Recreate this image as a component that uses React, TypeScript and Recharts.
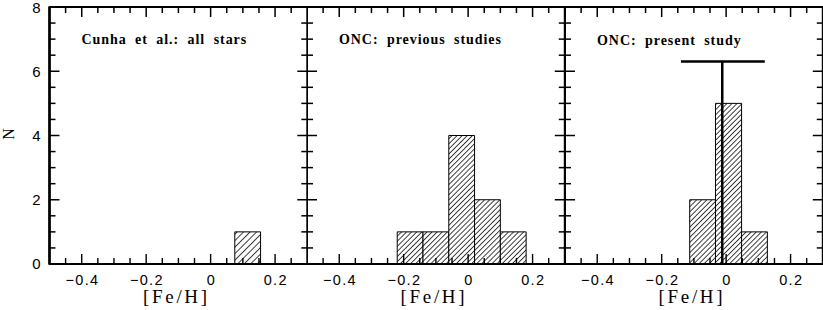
import React from "react";
import { ComposedChart, XAxis, YAxis, ReferenceArea, ReferenceLine } from "recharts";

const xDomain = [-0.5, 0.3];
const yDomain = [0, 8];
const xTicks = [-0.45, -0.4, -0.35, -0.3, -0.25, -0.2, -0.15, -0.1, -0.05, 0, 0.05, 0.1, 0.15, 0.2, 0.25];
const xMajorTicks = [-0.4, -0.2, 0, 0.2];
const yTicks = [0.5, 1, 1.5, 2, 2.5, 3, 3.5, 4, 4.5, 5, 5.5, 6, 6.5, 7, 7.5];
const yLabelTicks = [0, 2, 4, 6, 8];
const yMajorTicks = [0, 2, 4, 6, 8];

const panelTitles = ["Cunha et al.: all stars", "ONC: previous studies", "ONC: present study"];

const cunhaEdges = [0.075, 0.155];
const cunhaCounts = [1];
const previousEdges = [-0.22, -0.14, -0.06, 0.02, 0.1, 0.18];
const previousCounts = [1, 1, 4, 2, 1];
const presentEdges = [-0.113, -0.033, 0.048, 0.128];
const presentCounts = [2, 5, 1];

// mean and spread of the present sample, drawn as a T marker
const presentMean = -0.012;
const presentRange = [-0.14, 0.12];
const presentMarkerHeight = 6.3;

const PLOT_W = 257.8;
const PLOT_TOP = 7;
const X_AXIS_H = 46;
const CHART_H = 310;
const PLOT_H = CHART_H - PLOT_TOP - X_AXIS_H;
const INK = "#000";
const SERIF = "'Liberation Serif', 'Times New Roman', serif";
const SANS = "'Liberation Sans', Arial, sans-serif";

const pxPerX = PLOT_W / (xDomain[1] - xDomain[0]);
const pxPerY = PLOT_H / (yDomain[1] - yDomain[0]);

const near = (list: number[], v: number) => list.some((t) => Math.abs(t - v) < 1e-6);

const fmtX = (v: number) => {
  if (Math.abs(v) < 1e-9) return "0";
  return (v < 0 ? "\u2212" : "") + Math.abs(v).toFixed(1);
};

const xLabel = (props: any) => {
  const { x, y, payload } = props;
  if (!near(xMajorTicks, payload.value)) return <g />;
  return (
    <text x={x + 0.7} y={y + 21} textAnchor="middle" fontFamily={SANS} fontSize={14.5}
      letterSpacing={1.3} fill="#000">
      {fmtX(payload.value)}
    </text>
  );
};

const xTickMark = (props: any) => {
  const { x, y, payload } = props;
  const len = near(xMajorTicks, payload.value) ? 10 : 6;
  return <rect x={x - 0.7} y={y - len} width={1.4} height={len} fill="#000" />;
};

const yLabel = (props: any) => {
  const { x, y, payload } = props;
  return (
    <text x={x - 9} y={y + 5.5} textAnchor="end" fontFamily={SANS} fontSize={15} fill="#000">
      {payload.value}
    </text>
  );
};

const noTick = () => <g />;

interface PanelProps {
  id: string;
  left: number;
  yAxisWidth: number;
  extraRight: number;
  edges: number[];
  counts: number[];
  hatchGap: number;
  title: string;
  children?: React.ReactNode;
}

// ticks on all four sides, drawn in a transparent chart laid over the panel
function TickLayer({ left, yAxisWidth, extraRight, data }: { left: number; yAxisWidth: number; extraRight: number; data: any[] }) {
  const width = yAxisWidth + PLOT_W + extraRight;
  return (
    <div style={{ position: "absolute", left, top: 0, pointerEvents: "none" }}>
      <ComposedChart width={width} height={CHART_H} data={data}
        margin={{ top: PLOT_TOP, right: extraRight, bottom: 0, left: 0 }}>
        <XAxis dataKey="mid" type="number" domain={xDomain} allowDataOverflow ticks={xTicks} interval={0}
          tickSize={0} tickMargin={0} tickLine={false} axisLine={{ stroke: "#000", strokeWidth: 2 }}
          height={X_AXIS_H} tick={xTickMark} />
        <YAxis dataKey="n" type="number" domain={yDomain} allowDataOverflow width={yAxisWidth}
          hide={yAxisWidth === 0} tickLine={false} axisLine={{ stroke: "#000", strokeWidth: 2 }} tick={noTick} />
        {xTicks.map((v, i) => (
          <ReferenceLine key={`t${i}`} stroke="#000" strokeWidth={1.5}
            segment={[{ x: v, y: yDomain[1] }, { x: v, y: yDomain[1] - (near(xMajorTicks, v) ? 10 : 6) / pxPerY }]} />
        ))}
        {yTicks.map((v, i) => (
          <ReferenceLine key={`l${i}`} stroke="#000" strokeWidth={1.5}
            segment={[{ x: xDomain[0], y: v }, { x: xDomain[0] + (near(yMajorTicks, v) ? 10 : 6) / pxPerX, y: v }]} />
        ))}
        {yTicks.map((v, i) => (
          <ReferenceLine key={`r${i}`} stroke="#000" strokeWidth={1.5}
            segment={[{ x: xDomain[1], y: v }, { x: xDomain[1] - (near(yMajorTicks, v) ? 10 : 6) / pxPerX, y: v }]} />
        ))}
      </ComposedChart>
    </div>
  );
}

function Panel({ id, left, yAxisWidth, extraRight, edges, counts, hatchGap, title, children }: PanelProps) {
  const data = counts.map((n, i) => ({ mid: (edges[i] + edges[i + 1]) / 2, n }));
  const width = yAxisWidth + PLOT_W + extraRight;
  const hatchId = `hatch-${id}`;
  const plotCenter = yAxisWidth + PLOT_W / 2;
  return (
    <>
      <div style={{ position: "absolute", left, top: 0 }}>
        <ComposedChart
          width={width}
          height={CHART_H}
          data={data}
          margin={{ top: PLOT_TOP, right: extraRight, bottom: 0, left: 0 }}
        >
          <defs>
            <pattern id={hatchId} patternUnits="userSpaceOnUse" width={hatchGap} height={hatchGap}
              patternTransform="rotate(45)">
              <rect width={hatchGap} height={hatchGap} fill="#fff" />
              <rect x={0} y={0} width={0.85} height={hatchGap} fill="#222" />
            </pattern>
          </defs>
          <XAxis
            dataKey="mid"
            type="number"
            domain={xDomain}
            allowDataOverflow
            ticks={xTicks}
            interval={0}
            tickSize={0}
            tickMargin={0}
            tickLine={false}
            axisLine={{ stroke: "#000", strokeWidth: 2 }}
            height={X_AXIS_H}
            tick={xLabel}
          />
          <YAxis
            dataKey="n"
            type="number"
            domain={yDomain}
            allowDataOverflow
            ticks={yLabelTicks}
            interval={0}
            tickSize={0}
            tickMargin={0}
            tickLine={false}
            axisLine={{ stroke: "#000", strokeWidth: 2 }}
            width={yAxisWidth}
            hide={yAxisWidth === 0}
            tick={yLabel}
          />
          {counts.map((n, i) => (
            <ReferenceArea
              key={`bar${i}`}
              x1={edges[i]}
              x2={edges[i + 1]}
              y1={0}
              y2={n}
              fill={`url(#${hatchId})`}
              fillOpacity={1}
              stroke={INK}
              strokeWidth={1}
            />
          ))}
          {children}
          <ReferenceArea
            x1={xDomain[0]}
            x2={xDomain[1]}
            y1={yDomain[0]}
            y2={yDomain[1]}
            ifOverflow="visible"
            fill="none"
            stroke={INK}
            strokeWidth={2}
          />
          <text x={yAxisWidth + 32} y={44.5} fontFamily={SERIF} fontWeight="bold" fontSize={14}
            style={{ letterSpacing: 0.95, wordSpacing: 4 }} fill={INK}>
            {title}
          </text>
          <text x={plotCenter - 2} y={303} textAnchor="middle" fontFamily={SERIF} fontSize={19}
            style={{ letterSpacing: 2.7 }} fill={INK}>
            [Fe/H]
          </text>
          {yAxisWidth > 0 && (
            <text x={9} y={134} textAnchor="middle" dominantBaseline="central" fontFamily={SERIF}
              fontSize={16} transform="rotate(-90 9 134)" fill={INK}>
              N
            </text>
          )}
        </ComposedChart>
      </div>
      <TickLayer left={left} yAxisWidth={yAxisWidth} extraRight={extraRight} data={data} />
    </>
  );
}

export default function App() {
  return (
    <div style={{ position: "absolute", left: 0, top: 0, width: 823, height: 310, overflow: "hidden", background: "#fff" }}>
      <Panel id="p1" left={0} yAxisWidth={49.5} extraRight={0} edges={cunhaEdges} counts={cunhaCounts}
        hatchGap={4.6} title={panelTitles[0]} />
      <Panel id="p2" left={307.3} yAxisWidth={0} extraRight={0} edges={previousEdges} counts={previousCounts}
        hatchGap={3.6} title={panelTitles[1]} />
      <Panel id="p3" left={565.1} yAxisWidth={0} extraRight={1.2} edges={presentEdges} counts={presentCounts}
        hatchGap={3.6} title={panelTitles[2]}>
        <ReferenceLine
          segment={[{ x: presentMean, y: 0 }, { x: presentMean, y: presentMarkerHeight }]}
          stroke={INK}
          strokeWidth={2.5}
        />
        <ReferenceLine
          segment={[{ x: presentRange[0], y: presentMarkerHeight }, { x: presentRange[1], y: presentMarkerHeight }]}
          stroke={INK}
          strokeWidth={2.5}
        />
      </Panel>
    </div>
  );
}
